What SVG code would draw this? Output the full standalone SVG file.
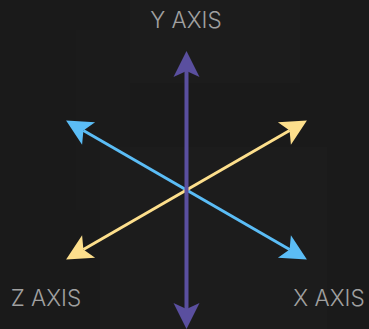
<svg xmlns="http://www.w3.org/2000/svg" width="369" height="329" viewBox="0 0 369 329">
<style>
.lbl{font-family:Inter,"Noto Sans",sans-serif;font-size:22.5px;font-weight:300;fill:#a0a0a0;text-anchor:middle}
.ax{fill:none}
</style>
<defs>
<marker id="hp" markerUnits="userSpaceOnUse" markerWidth="30" markerHeight="30" viewBox="-2 -15 30 30" refX="6" refY="0" orient="auto-start-reverse"><path d="M0,-13 L26,0 L0,13 L6,0 Z" fill="#5a4f9f"/></marker>
<marker id="hb" markerUnits="userSpaceOnUse" markerWidth="30" markerHeight="30" viewBox="-2 -15 30 30" refX="6" refY="0" orient="auto-start-reverse"><path d="M0,-13 L26,0 L0,13 L6,0 Z" fill="#5bbdf6"/></marker>
<marker id="hy" markerUnits="userSpaceOnUse" markerWidth="30" markerHeight="30" viewBox="-2 -15 30 30" refX="6" refY="0" orient="auto-start-reverse"><path d="M0,-13 L26,0 L0,13 L6,0 Z" fill="#fddf8c"/></marker>
</defs>
<rect width="369" height="329" fill="#1a1a1a"/>
<g id="background">
<rect x="76" y="30" width="54" height="180" fill="#1b1b1b"/>
<rect x="130" y="0" width="170" height="83" fill="#1c1c1c"/>
<rect x="100" y="147" width="227" height="182" fill="#1c1c1c"/>
</g>
<g id="connectors">
<line id="z-x" class="ax" x1="83.4" y1="130.5" x2="289.6" y2="249.5" stroke="#5bbdf6" stroke-width="3" marker-start="url(#hb)" marker-end="url(#hb)"/>
<line id="x-z" class="ax" x1="289.6" y1="130.5" x2="83.4" y2="249.5" stroke="#fddf8c" stroke-width="3" marker-start="url(#hy)" marker-end="url(#hy)"/>
<line id="y" class="ax" x1="186.5" y1="71" x2="186.5" y2="309" stroke="#5a4f9f" stroke-width="4" marker-start="url(#hp)" marker-end="url(#hp)"/>
</g>
<g id="label-y"><text class="lbl" x="186" y="28">Y AXIS</text></g>
<g id="label-z"><text class="lbl" x="46" y="306">Z AXIS</text></g>
<g id="label-x"><text class="lbl" x="329" y="306">X AXIS</text></g>
</svg>
